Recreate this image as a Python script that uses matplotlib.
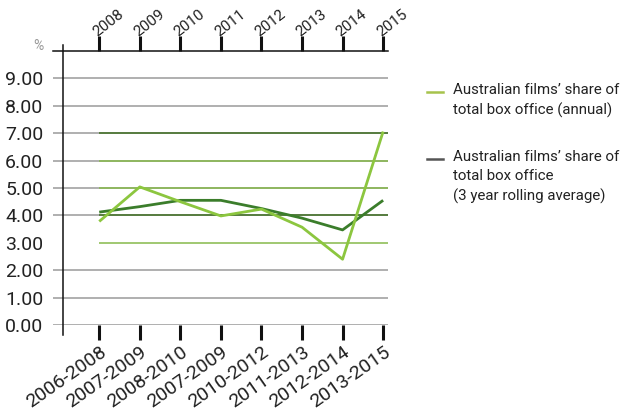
import matplotlib.pyplot as plt
from matplotlib.lines import Line2D

plt.rcParams['font.family'] = ['Roboto', 'DejaVu Sans']

periods = ["2006-2008", "2007-2009", "2008-2010", "2007-2009",
           "2010-2012", "2011-2013", "2012-2014", "2013-2015"]
years = ["2008", "2009", "2010", "2011", "2012", "2013", "2014", "2015"]
annual = [3.78, 5.04, 4.50, 3.98, 4.23, 3.57, 2.40, 7.06]
rolling = [4.12, 4.32, 4.55, 4.55, 4.25, 3.90, 3.47, 4.55]
levels = [0, 1, 2, 3, 4, 5, 6, 7, 8, 9]
legend_labels = ["Australian films\u2019 share of\ntotal box office (annual)",
                 "Australian films\u2019 share of\ntotal box office\n(3 year rolling average)"]
legend_colors = ["#a6c34c", "#555555"]

LIGHT = "#8cc63f"
DARK = "#3b7d2b"
# gridlines inside the data range pick up the series colours
band = {3: "#86b94a", 4: "#3f6f22", 5: "#86b94a", 6: "#86b94a", 7: "#3f6f22"}

W, H = 621, 412


def main():
    fig = plt.figure(figsize=(W / 100, H / 100), dpi=100)
    ax = fig.add_axes([53 / W, 87 / H, 335 / W, 274 / H])
    x = list(range(len(periods)))
    ax.set_xlim(-1.14, 7.12)
    ax.set_ylim(0, 10)

    # horizontal gridlines
    for v in levels:
        if v != 3:
            ax.axhline(v, color="#9a9a9a", lw=1.1, zorder=1)
        if v in band:
            ax.hlines(v, x[0], 7.12, color=band[v], lw=1.1, zorder=1.5)

    # y axis line
    ax.plot([-0.887, -0.887], [-0.35, 10.22], color="#111111", lw=1.1,
            clip_on=False, zorder=3)

    ax.plot(x, rolling, color=DARK, lw=2.0, zorder=4, solid_capstyle="butt")
    ax.plot(x, annual, color=LIGHT, lw=2.0, zorder=5, solid_capstyle="butt")

    for side in ["left", "right", "bottom"]:
        ax.spines[side].set_visible(False)
    ax.spines["top"].set_color("#111111")
    ax.spines["top"].set_linewidth(1.1)

    ax.set_yticks(levels)
    ax.set_yticklabels(["%.2f" % v for v in levels], fontsize=14,
                       color="#222222")
    ax.tick_params(axis="y", length=0, pad=7)

    ax.set_xticks(x)
    ax.set_xticklabels(periods, fontsize=14, color="#222222")
    plt.setp(ax.get_xticklabels(), rotation=35, ha="right", va="top",
             rotation_mode="anchor")
    ax.tick_params(axis="x", direction="out", length=11, width=2.2,
                   color="#111111", pad=2, top=True, labeltop=False)

    # year labels sit on top of the upper ticks
    for xi, yr in zip(x, years):
        ax.annotate(yr, xy=(xi, 1), xycoords=ax.get_xaxis_transform(),
                    xytext=(0, 8.5), textcoords="offset points",
                    rotation=38, rotation_mode="anchor", ha="left",
                    va="bottom", fontsize=11, color="#222222")

    fig.text(38 / W, 1 - 46 / H, "%", fontsize=10, color="#999999",
             ha="center", va="center")

    # legend, drawn by hand so the line spacing can be set
    for i, (lab, col) in enumerate(zip(legend_labels, legend_colors)):
        yc = 92 + 67 * i
        fig.add_artist(Line2D([427 / W, 443 / W], [1 - yc / H, 1 - yc / H],
                              color=col, lw=1.8))
        fig.text(453 / W, 1 - (yc - 9) / H, lab, fontsize=10.8,
                 color="#222222", ha="left", va="top", linespacing=1.45)

    fig.savefig("out.png", dpi=100)


if __name__ == '__main__':
    main()
